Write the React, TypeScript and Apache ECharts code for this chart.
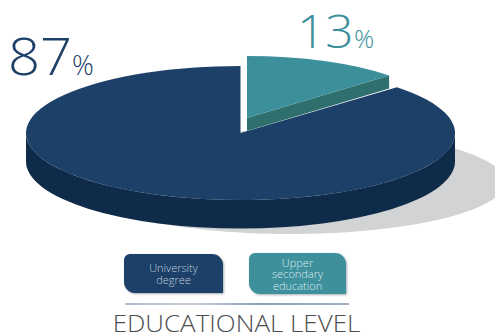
import React, { useEffect, useRef } from "react";
import * as echarts from "echarts";

const categories = ["University\ndegree", "Upper\nsecondary\neducation"];
const values = [87, 13];
const title = "EDUCATIONAL LEVEL";
const NAVY = "#1c4068";
const NAVY_DARK = "#0e2c4a";
const TEAL = "#3c909c";
const TEAL_DARK = "#2f706f";
const FONT = '"Open Sans", sans-serif';

// Point on a flattened circle; the angle runs clockwise from twelve o'clock.
const rim = (cx: number, cy: number, rx: number, ry: number, deg: number) => {
  const a = (deg * Math.PI) / 180;
  return [cx + rx * Math.sin(a), cy - ry * Math.cos(a)];
};

const renderSlice = (params: any, api: any) => {
  const value = api.value(0);
  const sweep = (value / 100) * 360;
  if (params.dataIndex === 0) {
    // Large slice: starts where the small one ends and closes at twelve o'clock.
    const cx = 240.5, cy = 133, rx = 214.5, ry = 67, depth = 28.5;
    const start = 360 - sweep;
    const [sx, sy] = rim(cx, cy, rx, ry, start);
    return {
      type: "group",
      children: [
        {
          type: "path",
          shape: {
            pathData:
              `M${cx - rx} ${cy} A${rx} ${ry} 0 0 0 ${cx + rx} ${cy} ` +
              `L${cx + rx} ${cy + depth} A${rx} ${ry} 0 0 1 ${cx - rx} ${cy + depth} Z`,
          },
          style: { fill: NAVY_DARK },
        },
        {
          type: "path",
          shape: {
            pathData: `M${cx} ${cy} L${sx} ${sy} A${rx} ${ry} 0 1 1 ${cx} ${cy - ry} Z`,
          },
          style: { fill: NAVY },
        },
      ],
    };
  }
  // Small slice: pulled out of the pie, with only its inner wall visible.
  const cx = 247, cy = 118, rx = 195, ry = 62, depth = 13;
  const [ex, ey] = rim(cx, cy, rx, ry, sweep);
  return {
    type: "group",
    children: [
      {
        type: "path",
        shape: {
          pathData: `M${cx} ${cy} L${ex} ${ey} L${ex} ${ey + depth} L${cx} ${cy + depth} Z`,
        },
        style: { fill: TEAL_DARK },
      },
      {
        type: "path",
        shape: {
          pathData: `M${cx} ${cy} L${cx} ${cy - ry} A${rx} ${ry} 0 0 1 ${ex} ${ey} Z`,
        },
        style: { fill: TEAL },
      },
    ],
  };
};

const bigNumber = (text: string, x: number, y: number, size: number, fill: string, stretch: number) => ({
  type: "text",
  x,
  y,
  scaleX: stretch,
  style: { text, fill, fontFamily: FONT, fontWeight: 300, fontSize: size, textVerticalAlign: "bottom" },
});

const legendBox = (x: number, y: number, w: number, h: number, fill: string, text: string, textFill: string) => [
  {
    type: "rect",
    shape: { x, y, width: w, height: h, r: [6, 11, 1, 11] },
    style: { fill, shadowColor: "rgba(60,70,80,0.45)", shadowBlur: 2, shadowOffsetX: 1, shadowOffsetY: 1 },
  },
  {
    type: "text",
    x: x + w / 2,
    y: y + h / 2,
    style: {
      text,
      fill: textFill,
      fontFamily: FONT,
      fontWeight: 300,
      fontSize: 11,
      lineHeight: 11.5,
      align: "center",
      verticalAlign: "middle",
    },
  },
];

export default function App() {
  const ref = useRef<HTMLDivElement>(null);
  useEffect(() => {
    const chart = echarts.init(ref.current!, undefined, { renderer: "svg" });
    chart.setOption({
      animation: false,
      backgroundColor: "#ffffff",
      series: [
        {
          type: "custom",
          coordinateSystem: "none",
          silent: true,
          z: 2,
          data: values.map((v) => [v]),
          renderItem: renderSlice,
        },
      ],
      graphic: [
        {
          type: "ellipse",
          z: 0,
          shape: { cx: 290, cy: 182, rx: 215, ry: 52 },
          style: { fill: "#d1d3d4" },
        },
        { ...bigNumber(String(values[0]), 8, 81, 52, NAVY, 1.08), z: 5 },
        { ...bigNumber("%", 72, 78, 27, NAVY, 1), z: 5 },
        { ...bigNumber(String(values[1]), 297, 53, 46, TEAL, 1.08), z: 5 },
        { ...bigNumber("%", 354, 50, 25, TEAL, 1), z: 5 },
        ...legendBox(124, 254, 99, 39, NAVY, categories[0], "#c0cfdd").map((e) => ({ ...e, z: 5 })),
        ...legendBox(249, 253, 97, 41, TEAL, categories[1], "#dcebee").map((e) => ({ ...e, z: 5 })),
        {
          type: "rect",
          z: 5,
          shape: { x: 125, y: 303.5, width: 224, height: 1 },
          style: {
            fill: new echarts.graphic.LinearGradient(0, 0, 1, 0, [
              { offset: 0, color: "#5f7a98" },
              { offset: 0.3, color: "#8fa3ba" },
              { offset: 0.6, color: NAVY },
              { offset: 1, color: "#4a678a" },
            ]),
          },
        },
        {
          type: "text",
          z: 5,
          x: 236.5,
          y: 322.5,
          scaleX: 1.06,
          style: {
            text: title,
            fill: "#4d4d4f",
            fontFamily: FONT,
            fontWeight: 300,
            fontSize: 24.5,
            align: "center",
            verticalAlign: "middle",
          },
        },
      ],
    });
    return () => chart.dispose();
  }, []);
  return <div ref={ref} style={{ position: "fixed", left: 0, top: 0, width: 495, height: 335 }} />;
}
